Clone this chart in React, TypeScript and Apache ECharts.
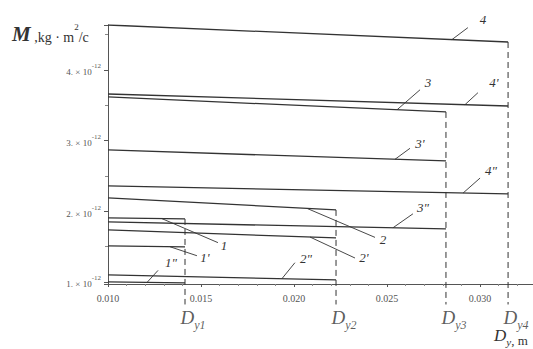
import React, { useEffect, useRef } from "react";
import * as echarts from "echarts";

// ---- data (moments in units of 1e-12 kg·m²/c, diameters in m) ----
const xStart = 0.01;
const xEnd = 0.03285;
const yMin = 0.97;
const yMax = 4.637;
const diameters = [0.01414, 0.02226, 0.02817, 0.03151]; // D_y1..D_y4
const diameterSubs = ["y1", "y2", "y3", "y4"];
const curveNames = ["1", "1'", "1\"", "2", "2'", "2\"", "3", "3'", "3\"", "4", "4'", "4\""];
const curveGroup = [0, 0, 0, 1, 1, 1, 2, 2, 2, 3, 3, 3];
const momentStart = [1.906, 1.509, 1.0, 2.189, 1.736, 1.099, 3.618, 2.868, 1.849, 4.637, 3.66, 2.358];
const momentEnd = [1.891, 1.495, 0.986, 2.019, 1.622, 1.028, 3.406, 2.712, 1.75, 4.396, 3.49, 2.245];
const dashBottom = 0.68;
const labelLevel = 0.49;
// annotation anchors (x on the curve, in m)
const annotationX = [0.0129, 0.01333, 0.0121, 0.0207, 0.02086, 0.01935, 0.02554, 0.02543, 0.02532, 0.02849, 0.02919, 0.02909];

// ---- style: pointer / label pixel offsets from anchors ----
const pointerOffsets = [
  [56, 24], [27, 9], [11, -12],
  [68, 29], [45, 21], [13, -16],
  [23, -20], [15, -11], [20, -14],
  [16, -12], [13, -12], [17, -15],
];
const labelOffsets = [
  [62, 27], [35, 11], [24, -20],
  [76, 31], [54, 20], [24, -20],
  [31, -27], [25, -16], [30, -20],
  [31, -20], [29, -22], [28, -23],
];

const SERIF = "Liberation Serif";
const INK = "#333";
const GREY = "#555";

export default function App() {
  const ref = useRef<HTMLDivElement>(null);
  useEffect(() => {
    const chart = echarts.init(ref.current!, null, { renderer: "svg" });
    const series: any[] = [];
    curveNames.forEach((name, i) => {
      series.push({
        type: "line",
        name,
        data: [
          [xStart, momentStart[i]],
          [diameters[curveGroup[i]], momentEnd[i]],
        ],
        symbol: "none",
        silent: true,
        lineStyle: { color: INK, width: 1.3 },
      });
    });
    diameters.forEach((d, k) => {
      const top = momentEnd[k * 3];
      series.push({
        type: "line",
        data: [
          [d, top],
          [d, dashBottom],
        ],
        symbol: "none",
        silent: true,
        clip: false,
        lineStyle: { color: INK, width: 1, type: [6, 4] },
      });
    });
    series.push({
      type: "scatter",
      clip: false,
      silent: true,
      symbolSize: 1,
      itemStyle: { color: "transparent" },
      data: diameters.map((d, k) => ({
        value: [d, labelLevel],
        label: { formatter: `{d|D}{s|${diameterSubs[k]}}` },
      })),
      label: {
        show: true,
        position: "inside",
        offset: [8, 0],
        rich: {
          d: { fontFamily: SERIF, fontStyle: "italic", fontSize: 19, color: INK, lineHeight: 20, verticalAlign: "top" },
          s: { fontFamily: SERIF, fontStyle: "italic", fontSize: 12, color: INK, lineHeight: 20, verticalAlign: "bottom", padding: [0, 0, -3, 0] },
        },
      },
    });

    const option: any = {
      animation: false,
      textStyle: { fontFamily: SERIF },
      grid: { left: 108, right: 0, top: 25, bottom: 65, containLabel: false, outerBoundsMode: "none" },
      xAxis: {
        type: "value",
        min: xStart,
        max: xEnd,
        interval: 0.005,
        axisLine: { show: true, onZero: false, lineStyle: { color: GREY, width: 1 } },
        axisTick: { show: true, length: 3, lineStyle: { color: GREY } },
        minorTick: { show: true, splitNumber: 5, length: 2, lineStyle: { color: "#888" } },
        splitLine: { show: false },
        axisLabel: {
          margin: 9,
          fontFamily: SERIF,
          fontSize: 10,
          color: GREY,
          showMaxLabel: false,
          formatter: (v: number) => v.toFixed(3),
        },
      },
      yAxis: {
        type: "value",
        min: yMin,
        max: yMax,
        splitNumber: 4,
        axisLine: { show: true, lineStyle: { color: GREY, width: 1 } },
        axisTick: { show: true, length: 4, lineStyle: { color: GREY } },
        minorTick: { show: true, splitNumber: 2, length: 3, lineStyle: { color: "#888" } },
        splitLine: { show: false },
        axisLabel: {
          margin: 7,
          fontFamily: SERIF,
          showMinLabel: false,
          showMaxLabel: false,
          formatter: (v: number) =>
            Math.abs(v - Math.round(v)) < 1e-6 ? `{a|${Math.round(v)}. × 10}{b|-12}` : "",
          rich: {
            a: { fontFamily: SERIF, fontSize: 9, color: GREY, lineHeight: 14, verticalAlign: "bottom" },
            b: { fontFamily: SERIF, fontSize: 7, color: GREY, lineHeight: 14, verticalAlign: "top" },
          },
        },
      },
      series,
    };
    chart.setOption(option);

    const graphics: any[] = [];
    annotationX.forEach((x, i) => {
      const g = curveGroup[i];
      const t = (x - xStart) / (diameters[g] - xStart);
      const v = momentStart[i] + (momentEnd[i] - momentStart[i]) * t;
      const p = chart.convertToPixel({ gridIndex: 0 }, [x, v]) as number[];
      const [pdx, pdy] = pointerOffsets[i];
      const [ldx, ldy] = labelOffsets[i];
      graphics.push({
        type: "line",
        silent: true,
        shape: { x1: p[0], y1: p[1], x2: p[0] + pdx, y2: p[1] + pdy },
        style: { stroke: INK, lineWidth: 0.9 },
      });
      graphics.push({
        type: "text",
        silent: true,
        x: p[0] + ldx,
        y: p[1] + ldy,
        style: {
          text: curveNames[i],
          align: "center",
          verticalAlign: "middle",
          font: `italic 13px "${SERIF}"`,
          fill: INK,
        },
      });
    });
    graphics.push({
      type: "text",
      silent: true,
      x: 12,
      y: 22,
      style: {
        text: "{M|M}{u| ,kg · m}{s|2}{u|/c}",
        rich: {
          M: { fontFamily: SERIF, fontStyle: "italic", fontWeight: "bold", fontSize: 21, fill: INK, lineHeight: 22, verticalAlign: "bottom" },
          u: { fontFamily: SERIF, fontSize: 14, fill: INK, lineHeight: 22, verticalAlign: "bottom" },
          s: { fontFamily: SERIF, fontSize: 9, fill: INK, lineHeight: 22, verticalAlign: "top" },
        },
      },
    });
    graphics.push({
      type: "text",
      silent: true,
      x: 494,
      y: 327,
      style: {
        text: "{d|D}{s|y}{u|, m}",
        rich: {
          d: { fontFamily: SERIF, fontStyle: "italic", fontSize: 17, fill: INK, lineHeight: 18, verticalAlign: "top" },
          s: { fontFamily: SERIF, fontStyle: "italic", fontSize: 11, fill: INK, lineHeight: 20, verticalAlign: "bottom" },
          u: { fontFamily: SERIF, fontSize: 13, fill: INK, lineHeight: 18, verticalAlign: "bottom" },
        },
      },
    });
    chart.setOption({ graphic: graphics });

    return () => chart.dispose();
  }, []);
  return (
    <div
      ref={ref}
      style={{ position: "fixed", left: 0, top: 0, width: 533, height: 349, background: "#fff" }}
    />
  );
}
